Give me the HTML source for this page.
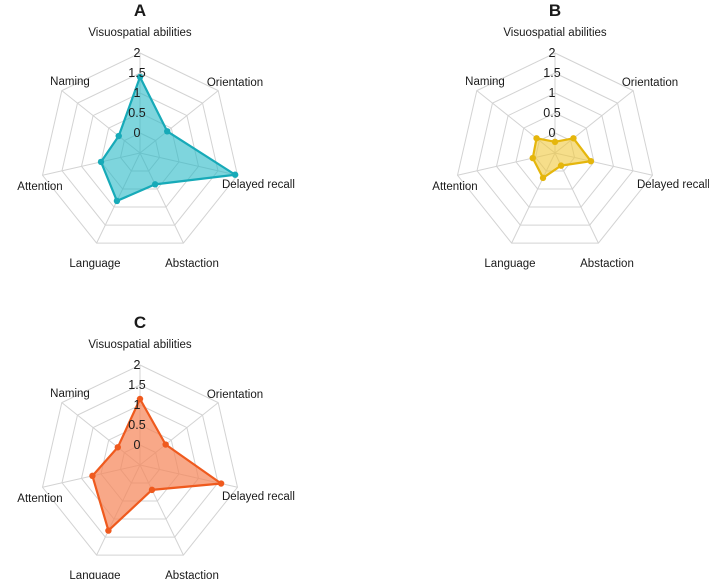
<!DOCTYPE html>
<html><head><meta charset="utf-8"><style>
body{margin:0;background:#fff;width:709px;height:579px;overflow:hidden}
svg text{font-family:"Liberation Sans",Arial,sans-serif;fill:#1a1a1a}
</style></head><body>
<svg id="chart" width="709" height="579" xmlns="http://www.w3.org/2000/svg"></svg>
<script>
const categories=["Visuospatial abilities","Orientation","Delayed recall","Abstaction","Language","Attention","Naming"];
const ticks=[0,0.5,1,1.5,2];
const seriesA=[1.4,0.37,1.94,0.37,0.83,0.5,0.18];
const seriesB=[-0.22,0.09,0.42,-0.15,0.19,0.07,0.09];
const seriesC=[1.15,0.32,1.58,0.19,1.32,0.72,0.21];
const panels=[
 {t:"A",cx:140,cy:153,d:seriesA,s:"#17aab8",f:"rgba(40,185,198,0.6)"},
 {t:"B",cx:555,cy:153,d:seriesB,s:"#e5b60c",f:"rgba(240,200,60,0.6)"},
 {t:"C",cx:140,cy:465,d:seriesC,s:"#ef5a1e",f:"rgba(245,135,90,0.72)"}];
const labelOff=[[0,-121,"middle"],[95,-71,"middle"],[82,31,"start"],[52,110,"middle"],[-45,110,"middle"],[-100,33,"middle"],[-70,-72,"middle"]];
const NS="http://www.w3.org/2000/svg";
const svg=document.getElementById("chart");
function r(v){return (v+0.5)*40;}
function pt(cx,cy,i,v){const a=i*2*Math.PI/7;return [cx+r(v)*Math.sin(a),cy-r(v)*Math.cos(a)];}
function mk(tag,at,p){const e=document.createElementNS(NS,tag);for(const k in at)e.setAttribute(k,at[k]);(p||svg).appendChild(e);return e;}
panels.forEach(P=>{
 const g=mk("g",{});
 
 
 ticks.forEach(t=>{
  const ps=categories.map((c,i)=>pt(P.cx,P.cy,i,t).join(",")).join(" ");
  const ring=mk("polygon",{points:ps,fill:"none",stroke:"#d3d3d3","stroke-width":1},g);
  
  
 });
 categories.forEach((c,i)=>{
  const p=pt(P.cx,P.cy,i,2);
  const sp=mk("line",{x1:P.cx,y1:P.cy,x2:p[0],y2:p[1],stroke:"#d3d3d3","stroke-width":1},g);
  
  
 });
 const ps=P.d.map((v,i)=>pt(P.cx,P.cy,i,v).join(",")).join(" ");
 const poly=mk("polygon",{points:ps,fill:P.f,stroke:P.s,"stroke-width":2.2,"stroke-linejoin":"miter"},g);
 
 
 P.d.forEach((v,i)=>{const p=pt(P.cx,P.cy,i,v);
  const c=mk("circle",{cx:p[0],cy:p[1],r:3.2,fill:P.s},g);
  
  });
 ticks.forEach(t=>{
  const tx=mk("text",{x:P.cx-3,y:P.cy-r(t)+4,"text-anchor":"middle","font-size":12.5},g);
  tx.textContent=t;
  
  
 });
 categories.forEach((c,i)=>{
  const o=labelOff[i];
  const tx=mk("text",{x:P.cx+o[0],y:P.cy+o[1]+4,"text-anchor":o[2],"font-size":11.5},g);
  tx.textContent=c;
  
  
 });
 const ti=mk("text",{x:P.cx,y:P.cy-137,"text-anchor":"middle","font-size":17,"font-weight":"bold"},g);
 ti.textContent=P.t;
 
 
});
</script>
</body></html>
